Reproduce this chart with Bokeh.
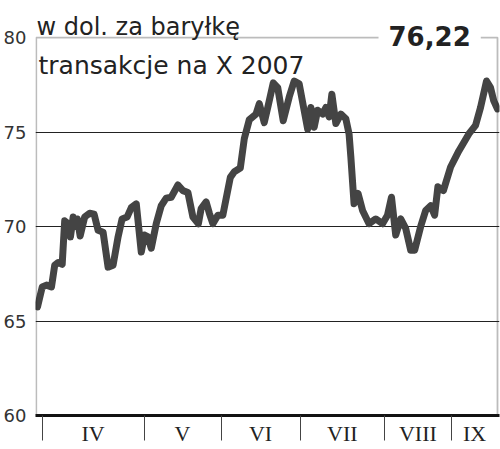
from bokeh.plotting import figure
from bokeh.models import Range1d, FixedTicker, Label, BoxAnnotation
from bokeh.embed import file_html
from bokeh.resources import INLINE

# trading-day index (approximate) and price, USD per barrel
days = [0.0, 1.9, 3.6, 5.6, 6.9, 8.3, 9.9, 10.9, 12.3, 13.2, 14.3, 15.2, 16.0, 17.1,
        18.9, 20.9, 22.7, 24.3, 26.3, 28.3, 30.3, 32.3, 33.9, 35.9, 37.6, 39.6, 41.6,
        42.9, 44.3, 45.6, 47.6, 49.6, 51.6, 53.6, 56.3, 58.3, 60.3, 62.3, 64.5, 65.6,
        67.6, 68.9, 70.3, 72.3, 74.3, 77.3, 78.9, 81.3, 82.9, 84.9, 87.6, 88.9, 90.9,
        92.3, 94.5, 96.3, 98.5, 100.9, 102.9, 104.9, 108.3, 109.6, 110.9, 112.3, 114.3,
        115.6, 116.9, 118.0, 119.6, 121.6, 123.6, 124.9, 125.6, 126.9, 128.5, 130.3,
        132.9, 135.6, 138.3, 140.3, 141.9, 143.6, 145.6, 147.6, 149.6, 151.2, 153.6,
        155.6, 157.6, 159.2, 160.5, 162.7, 165.6, 168.9, 172.9, 175.6, 177.6, 180.0,
        181.6, 182.9, 184.4]
price = [65.75, 66.8, 66.9, 66.8, 67.95, 68.1, 68.0, 70.3, 70.15, 69.45, 70.5, 70.0, 70.4, 69.5,
         70.5, 70.7, 70.65, 69.8, 69.7, 67.85, 67.95, 69.45, 70.4, 70.5, 71.0, 71.2, 68.65,
         69.55, 69.45, 68.85, 70.15, 71.1, 71.5, 71.55, 72.2, 71.9, 71.8, 70.5, 70.15, 70.95,
         71.3, 70.7, 70.15, 70.6, 70.6, 72.6, 72.9, 73.1, 74.65, 75.65, 75.95, 76.5, 75.5,
         76.3, 77.6, 77.35, 75.6, 76.85, 77.7, 77.55, 75.15, 76.3, 75.25, 76.15, 75.95,
         76.3, 75.8, 77.0, 75.45, 75.95, 75.7, 74.9, 73.7, 71.2, 71.75, 70.85,
         70.15, 70.4, 70.15, 70.6, 71.55, 69.55, 70.4, 69.9, 68.75, 68.75, 70.0,
         70.85, 71.1, 70.6, 72.1, 71.9, 73.15, 74.0, 74.9, 75.35, 76.3, 77.7,
         77.35, 76.65, 76.22]

month_bounds = [1.9, 42.7, 73.6, 105.3, 139.2, 165.9]
month_centers = [22.3, 58.1, 89.4, 122.2, 152.5, 175.2]
month_labels = ["IV", "V", "VI", "VII", "VIII", "IX"]
y_ticks = [60, 65, 70, 75, 80]
grid_ticks = [65, 70, 75]
last_value = "76,22"
unit_text = "w dol. za baryłkę"
sub_text = "transakcje na X 2007"

X0, X1 = -0.8, 185.2      # visible x range
XE = 184.4                # right edge of the chart box
Y0, Y1 = 60, 80           # chart box
YTOP = 81.96              # visible y range top (room for header)

p = figure(width=500, height=449, output_backend="svg", toolbar_location=None,
           x_range=Range1d(X0, X1), y_range=Range1d(Y0, YTOP),
           min_border_left=34, min_border_right=1, min_border_top=0, min_border_bottom=34)
p.outline_line_color = None
p.background_fill_color = "white"
p.border_fill_color = "white"

# x axis: months
xa = p.xaxis[0]
xa.ticker = FixedTicker(ticks=month_centers, minor_ticks=month_bounds)
xa.major_label_overrides = {c: l for c, l in zip(month_centers, month_labels)}
xa.major_tick_line_color = None
xa.major_tick_out = 0
xa.major_tick_in = 0
xa.minor_tick_out = 25
xa.minor_tick_in = 0
xa.minor_tick_line_color = "#444444"
xa.minor_tick_line_width = 1
xa.axis_line_color = "#111111"
xa.axis_line_width = 3
xa.major_label_standoff = -20
xa.major_label_text_font = "Liberation Serif"
xa.major_label_text_font_size = "22px"
xa.major_label_text_color = "#222222"

ya = p.yaxis[0]
ya.ticker = FixedTicker(ticks=y_ticks)
ya.major_tick_line_color = None
ya.major_tick_out = 0
ya.major_tick_in = 0
ya.minor_tick_line_color = None
ya.axis_line_color = None
ya.major_label_standoff = 9
ya.major_label_text_font = "DejaVu Sans"
ya.major_label_text_font_size = "18px"
ya.major_label_text_color = "#333333"

p.xgrid.grid_line_color = None
p.ygrid.ticker = FixedTicker(ticks=grid_ticks)
p.ygrid.grid_line_color = "#222222"
p.ygrid.grid_line_width = 1.2

# chart box
p.add_layout(BoxAnnotation(left=X0 + 0.3, right=XE, bottom=Y0, top=Y1,
                           fill_color=None, line_color="#222222", line_width=1.8))

p.line(days, price, line_width=7, line_color="#444444", line_join="round", line_cap="round")

p.add_layout(Label(x=-0.4, y=80.58, text=unit_text, text_font="DejaVu Sans",
                   text_font_size="24px", text_color="#222222",
                   text_baseline="alphabetic", text_align="left"))
p.add_layout(Label(x=0.4, y=78.52, text=sub_text, text_font="DejaVu Sans",
                   text_font_size="25px", text_color="#222222",
                   text_baseline="alphabetic", text_align="left"))
p.add_layout(Label(x=157.2, y=80.1, text=last_value, text_font="DejaVu Sans",
                   text_font_style="bold", text_font_size="26px", text_color="#222222",
                   text_baseline="middle", text_align="center",
                   background_fill_color="white", padding=10, level="overlay"))

open("out.html", "w").write(file_html(p, INLINE))
